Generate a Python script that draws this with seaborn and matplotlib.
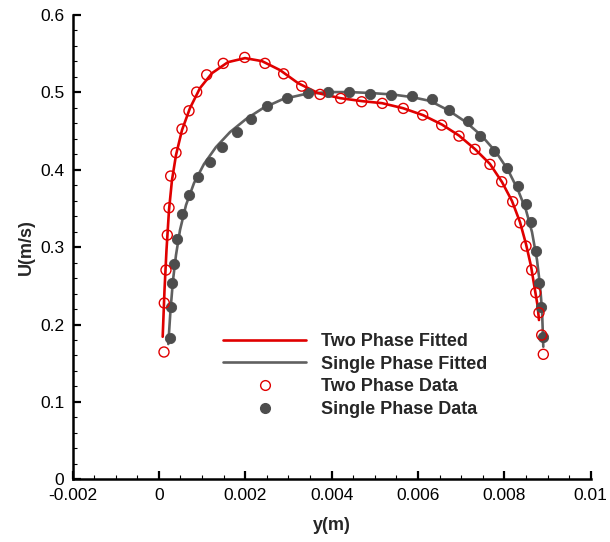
import matplotlib
matplotlib.use("Agg")
import matplotlib.pyplot as plt
from matplotlib.lines import Line2D
from matplotlib.ticker import MultipleLocator
import seaborn as sns
import pandas as pd

sns.set_style("ticks")
plt.rcParams["font.family"] = ["Liberation Sans", "DejaVu Sans"]

# two phase measured points
two_y = [0.000118, 0.000125, 0.000164, 0.000195, 0.000234, 0.000273, 0.000396, 0.000535,
         0.000697, 0.000875, 0.001107, 0.001491, 0.001987, 0.002457, 0.002889, 0.003307,
         0.003731, 0.004210, 0.004696, 0.005173, 0.005660, 0.006109, 0.006549, 0.006950,
         0.007320, 0.007667, 0.007938, 0.008193, 0.008362, 0.008501, 0.008633, 0.008726,
         0.008802, 0.008865, 0.008902]
two_u = [0.1645, 0.2278, 0.2704, 0.3156, 0.3509, 0.3919, 0.4220, 0.4526,
         0.4762, 0.5004, 0.5227, 0.5375, 0.5452, 0.5375, 0.5240, 0.5081,
         0.4974, 0.4922, 0.4879, 0.4858, 0.4793, 0.4707, 0.4577, 0.4435,
         0.4264, 0.4070, 0.3845, 0.3587, 0.3315, 0.3014, 0.2704, 0.2411,
         0.2152, 0.1864, 0.1615]

# single phase measured points
one_y = [0.000257, 0.000280, 0.000310, 0.000357, 0.000426, 0.000535, 0.000697, 0.000905,
         0.001176, 0.001468, 0.001809, 0.002140, 0.002496, 0.002959, 0.003446, 0.003923,
         0.004402, 0.004889, 0.005375, 0.005854, 0.006324, 0.006725, 0.007151, 0.007436,
         0.007767, 0.008068, 0.008323, 0.008501, 0.008610, 0.008733, 0.008802, 0.008848,
         0.008888]
one_u = [0.1829, 0.2230, 0.2540, 0.2782, 0.3101, 0.3432, 0.3673, 0.3902,
         0.4099, 0.4297, 0.4487, 0.4659, 0.4823, 0.4930, 0.4987, 0.5008,
         0.5000, 0.4974, 0.4969, 0.4952, 0.4913, 0.4771, 0.4625, 0.4435,
         0.4245, 0.4026, 0.3789, 0.3557, 0.3320, 0.2953, 0.2540, 0.2226,
         0.1835]

# fitted curves
two_fit_y = [0.000088, 0.000130, 0.000176, 0.000234, 0.000303, 0.000396, 0.000535, 0.000720,
             0.000952, 0.001230, 0.001600, 0.001994, 0.002388, 0.002805, 0.003222, 0.003685,
             0.004194, 0.004704, 0.005166, 0.005653, 0.006116, 0.006556, 0.006950, 0.007320,
             0.007668, 0.007946, 0.008177, 0.008362, 0.008501, 0.008617, 0.008709, 0.008767,
             0.008802]
two_fit_u = [0.1842, 0.2446, 0.2963, 0.3479, 0.3867, 0.4190, 0.4513, 0.4797,
             0.5056, 0.5249, 0.5391, 0.5443, 0.5404, 0.5288, 0.5120, 0.4991,
             0.4926, 0.4887, 0.4861, 0.4796, 0.4706, 0.4584, 0.4442, 0.4267,
             0.4074, 0.3841, 0.3596, 0.3324, 0.3040, 0.2756, 0.2446, 0.2252,
             0.2058]

one_fit_y = [0.000218, 0.000269, 0.000327, 0.000396, 0.000489, 0.000628, 0.000813, 0.001044,
             0.001322, 0.001647, 0.002017, 0.002411, 0.002874, 0.003384, 0.003917, 0.004426,
             0.004935, 0.005421, 0.005861, 0.006278, 0.006695, 0.007112, 0.007482, 0.007807,
             0.008085, 0.008316, 0.008501, 0.008640, 0.008756, 0.008825, 0.008872, 0.008902]
one_fit_u = [0.1748, 0.2187, 0.2575, 0.2898, 0.3221, 0.3544, 0.3828, 0.4074,
             0.4293, 0.4487, 0.4655, 0.4797, 0.4914, 0.4978, 0.5004, 0.5004,
             0.4991, 0.4972, 0.4939, 0.4890, 0.4771, 0.4616, 0.4435, 0.4229,
             0.3996, 0.3738, 0.3479, 0.3195, 0.2834, 0.2511, 0.2188, 0.1713]

x_ticks = [-0.002, 0, 0.002, 0.004, 0.006, 0.008, 0.01]
x_labels = ["-0.002", "0", "0.002", "0.004", "0.006", "0.008", "0.01"]
y_ticks = [0, 0.1, 0.2, 0.3, 0.4, 0.5, 0.6]
y_labels = ["0", "0.1", "0.2", "0.3", "0.4", "0.5", "0.6"]

red = "#e00000"
grey = "#606060"
dot = "#4d4d4d"

two_data = pd.DataFrame({"y": two_y, "U": two_u})
one_data = pd.DataFrame({"y": one_y, "U": one_u})
two_fit = pd.DataFrame({"y": two_fit_y, "U": two_fit_u})
one_fit = pd.DataFrame({"y": one_fit_y, "U": one_fit_u})

fig = plt.figure(figsize=(6.1, 5.42), dpi=100)
ax = fig.add_axes([0.1189, 0.1157, 0.8495, 0.8566])

sns.lineplot(data=one_fit, x="y", y="U", sort=False, color=grey, linewidth=1.9, ax=ax)
sns.lineplot(data=two_fit, x="y", y="U", sort=False, color=red, linewidth=1.9, ax=ax)
sns.scatterplot(data=one_data, x="y", y="U", marker="o", s=55, color=dot,
                edgecolor=dot, linewidth=0.6, ax=ax, zorder=3)
sns.scatterplot(data=two_data, x="y", y="U", marker="o", s=52, facecolors="none",
                edgecolor=red, linewidth=1.0, ax=ax, zorder=4)

ax.set_xlim(-0.002, 0.01)
ax.set_ylim(0, 0.6)
ax.set_xticks(x_ticks)
ax.set_xticklabels(x_labels)
ax.set_yticks(y_ticks)
ax.set_yticklabels(y_labels)
ax.xaxis.set_minor_locator(MultipleLocator(0.0005))
ax.yaxis.set_minor_locator(MultipleLocator(0.02))
ax.tick_params(which="major", direction="in", length=6, width=1.6, labelsize=12.5,
               colors="black", pad=6)
ax.tick_params(which="minor", direction="in", length=3, width=0.8, colors="black")

sns.despine(ax=ax)
for side in ["left", "bottom"]:
    ax.spines[side].set_linewidth(1.8)
    ax.spines[side].set_color("black")

ax.set_xlabel("y(m)", fontsize=13, fontweight="bold", labelpad=10)
ax.set_ylabel("U(m/s)", fontsize=13, fontweight="bold", labelpad=4)

handles = [
    Line2D([], [], color=red, linewidth=1.9),
    Line2D([], [], color=grey, linewidth=1.9),
    Line2D([], [], color=red, marker="o", linestyle="none", markerfacecolor="none",
           markersize=7, markeredgewidth=1.0),
    Line2D([], [], color=dot, marker="o", linestyle="none", markersize=7),
]
labels = ["Two Phase Fitted", "Single Phase Fitted", "Two Phase Data", "Single Phase Data"]
ax.legend(handles, labels, loc="upper left", bbox_to_anchor=(0.2904, 0.315),
          frameon=False, borderpad=0, borderaxespad=0, handlelength=4.6,
          handletextpad=0.85, labelspacing=0.31,
          prop={"weight": "bold", "size": 13})

fig.savefig("out.png", dpi=100)
